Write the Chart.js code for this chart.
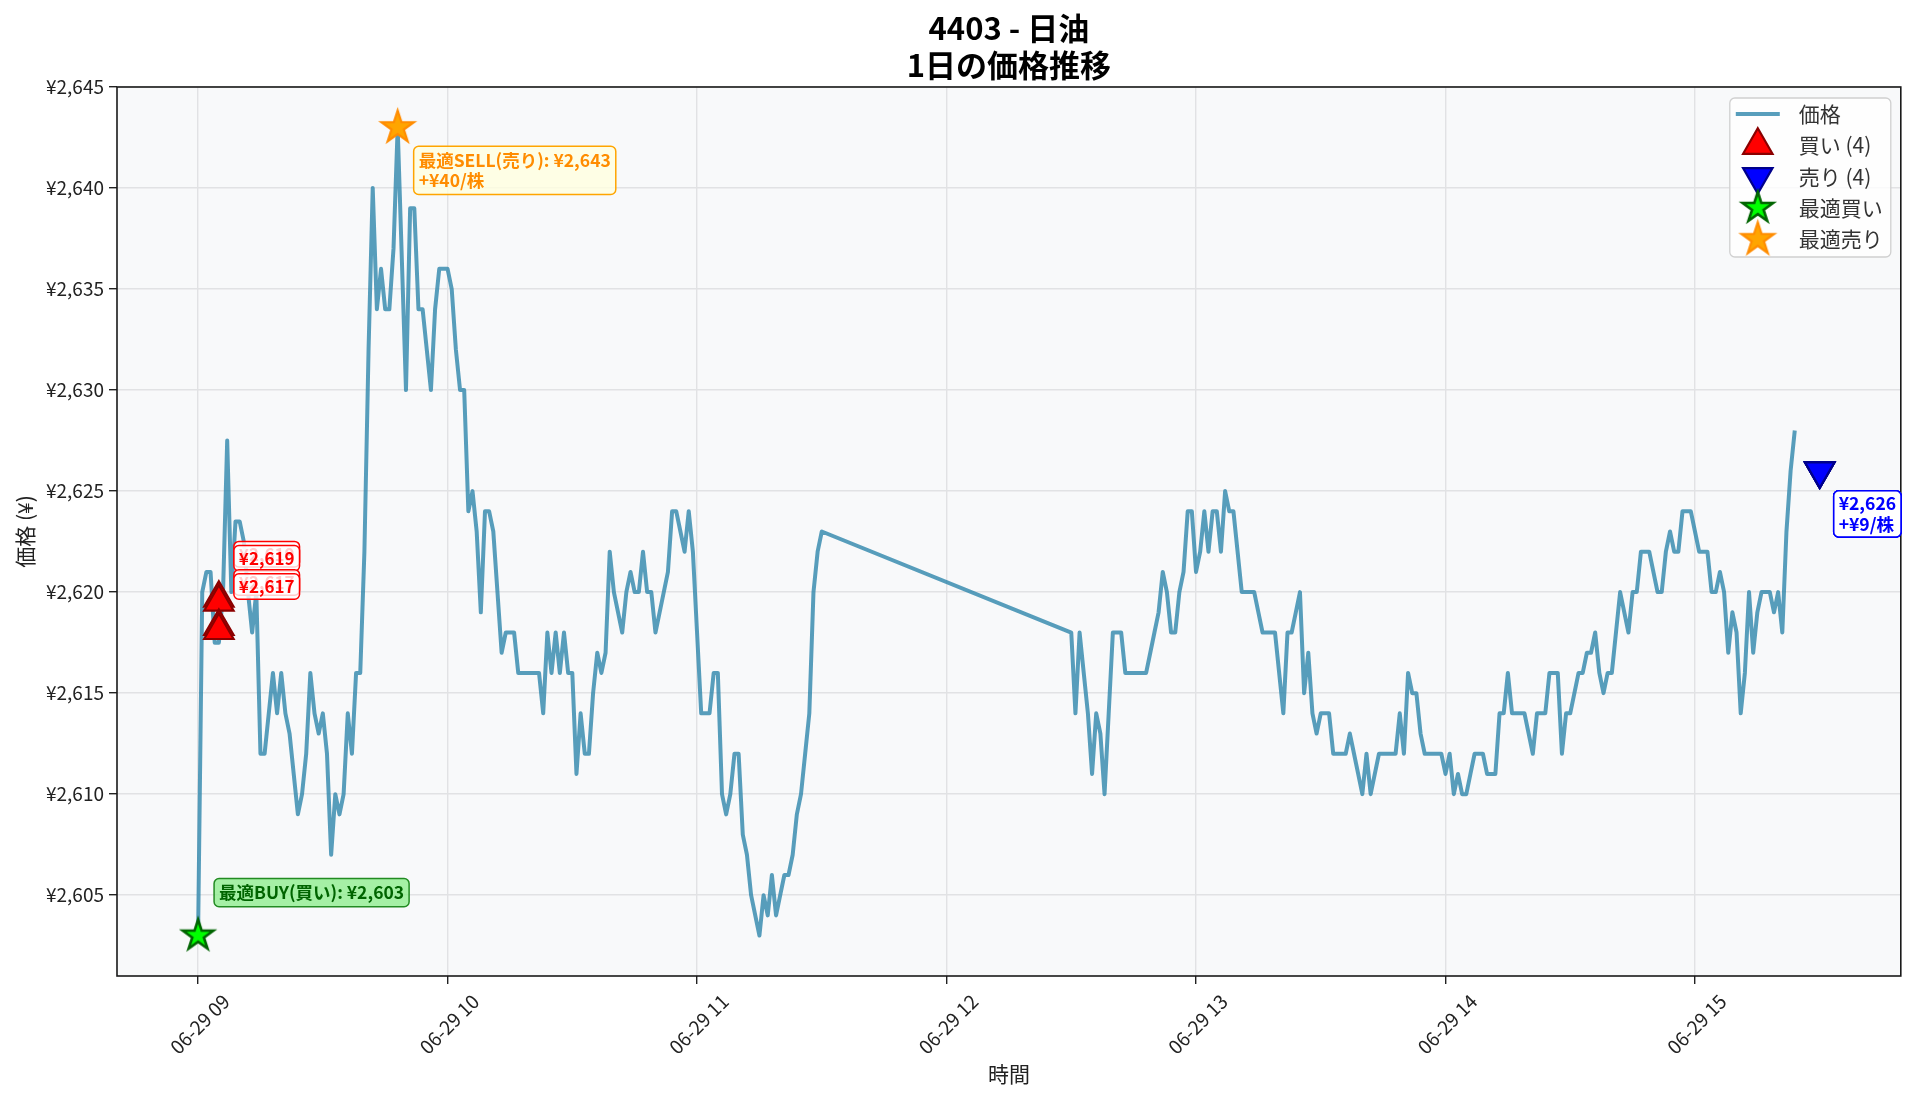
<!DOCTYPE html>
<html lang="ja">
<head>
<meta charset="utf-8">
<title>4403 - 日油 1日の価格推移</title>
<script src="https://cdn.jsdelivr.net/npm/chart.js@4.4.1/dist/chart.umd.min.js"></script>
<style>
  html, body { margin: 0; padding: 0; background: #fff; }
  #wrap { width: 1920px; height: 1101px; }
</style>
</head>
<body>
<div id="wrap"><canvas id="chart" width="1920" height="1101"></canvas></div>
<script>
const FONT = "'Noto Sans CJK JP', 'Noto Sans', sans-serif";

// 1分足の終値 (前場 09:00〜11:30 / 後場 12:30〜15:24)
const amStart = '09:00';
const amPrices = [
  2603, 2620, 2621, 2621, 2617.5, 2617.5, 2620, 2627.5, 2620, 2623.5,
  2623.5, 2622.5, 2620, 2618, 2620, 2612, 2612, 2614, 2616, 2614,
  2616, 2614, 2613, 2611, 2609, 2610, 2612, 2616, 2614, 2613,
  2614, 2612, 2607, 2610, 2609, 2610, 2614, 2612, 2616, 2616,
  2622, 2632, 2640, 2634, 2636, 2634, 2634, 2637, 2643, 2636.5,
  2630, 2639, 2639, 2634, 2634, 2632, 2630, 2634, 2636, 2636,
  2636, 2635, 2632, 2630, 2630, 2624, 2625, 2623, 2619, 2624,
  2624, 2623, 2620, 2617, 2618, 2618, 2618, 2616, 2616, 2616,
  2616, 2616, 2616, 2614, 2618, 2616, 2618, 2616, 2618, 2616,
  2616, 2611, 2614, 2612, 2612, 2615, 2617, 2616, 2617, 2622,
  2620, 2619, 2618, 2620, 2621, 2620, 2620, 2622, 2620, 2620,
  2618, 2619, 2620, 2621, 2624, 2624, 2623, 2622, 2624, 2622,
  2618, 2614, 2614, 2614, 2616, 2616, 2610, 2609, 2610, 2612,
  2612, 2608, 2607, 2605, 2604, 2603, 2605, 2604, 2606, 2604,
  2605, 2606, 2606, 2607, 2609, 2610, 2612, 2614, 2620, 2622,
  2623
];
const pmStart = '12:30';
const pmPrices = [
  2618, 2614, 2618, 2616, 2614, 2611, 2614, 2613, 2610, 2614,
  2618, 2618, 2618, 2616, 2616, 2616, 2616, 2616, 2616, 2617,
  2618, 2619, 2621, 2620, 2618, 2618, 2620, 2621, 2624, 2624,
  2621, 2622, 2624, 2622, 2624, 2624, 2622, 2625, 2624, 2624,
  2622, 2620, 2620, 2620, 2620, 2619, 2618, 2618, 2618, 2618,
  2616, 2614, 2618, 2618, 2619, 2620, 2615, 2617, 2614, 2613,
  2614, 2614, 2614, 2612, 2612, 2612, 2612, 2613, 2612, 2611,
  2610, 2612, 2610, 2611, 2612, 2612, 2612, 2612, 2612, 2614,
  2612, 2616, 2615, 2615, 2613, 2612, 2612, 2612, 2612, 2612,
  2611, 2612, 2610, 2611, 2610, 2610, 2611, 2612, 2612, 2612,
  2611, 2611, 2611, 2614, 2614, 2616, 2614, 2614, 2614, 2614,
  2613, 2612, 2614, 2614, 2614, 2616, 2616, 2616, 2612, 2614,
  2614, 2615, 2616, 2616, 2617, 2617, 2618, 2616, 2615, 2616,
  2616, 2618, 2620, 2619, 2618, 2620, 2620, 2622, 2622, 2622,
  2621, 2620, 2620, 2622, 2623, 2622, 2622, 2624, 2624, 2624,
  2623, 2622, 2622, 2622, 2620, 2620, 2621, 2620, 2617, 2619,
  2618, 2614, 2616, 2620, 2617, 2619, 2620, 2620, 2620, 2619,
  2620, 2618, 2623, 2626, 2628
];

const titleLines = ['4403 - 日油', '1日の価格推移'];
const hourTicks = ['09:00', '10:00', '11:00', '12:00', '13:00', '14:00', '15:00'];
const hourLabels = ['06-29 09', '06-29 10', '06-29 11', '06-29 12', '06-29 13', '06-29 14', '06-29 15'];
const yTicks = [2605, 2610, 2615, 2620, 2625, 2630, 2635, 2640, 2645];

// 売買シグナル
const buyTimes = ['09:05', '09:05', '09:05', '09:05'];
const buyMarks = [2619.7, 2619.5, 2618.3, 2618.1];
const buyPrices = [2619, 2619, 2617, 2617];
const sellTimes = ['15:30', '15:30', '15:30', '15:30'];
const sellPrices = [2626, 2626, 2626, 2626];
const sellGains = [9, 9, 9, 9];

const bestBuyTime = '09:00', bestBuyPrice = 2603;
const bestSellTime = '09:48', bestSellPrice = 2643, bestSellGain = 40;

const LINE_COLOR = 'rgba(46, 134, 171, 0.8)';

function toMin(t) {
  const [h, m] = t.split(':').map(Number);
  return (h - 9) * 60 + m;
}
function yen(v) {
  return '¥' + Math.round(v).toLocaleString('en-US');
}

function starImage(r, fill, edge, lw) {
  const s = Math.ceil(2 * r + lw * 2 + 4);
  const c = document.createElement('canvas');
  c.width = c.height = s;
  const g = c.getContext('2d');
  g.translate(s / 2, s / 2);
  g.beginPath();
  for (let i = 0; i < 10; i++) {
    const a = -Math.PI / 2 + i * Math.PI / 5;
    const rr = i % 2 ? r * 0.382 : r;
    g.lineTo(rr * Math.cos(a), rr * Math.sin(a));
  }
  g.closePath();
  g.fillStyle = fill;
  g.fill();
  g.lineJoin = 'miter';
  g.lineWidth = lw;
  g.strokeStyle = edge;
  g.stroke();
  return c;
}
const greenStar = starImage(16, '#00ff00', '#006400', 2.6);
const orangeStar = starImage(17, '#ffa500', '#ff8c00', 2.2);

const lineData = amPrices.map((p, i) => ({ x: toMin(amStart) + i, y: p }))
  .concat(pmPrices.map((p, i) => ({ x: toMin(pmStart) + i, y: p })));

const allX = lineData.map(d => d.x).concat(sellTimes.map(toMin));
const xLo = Math.min(...allX), xHi = Math.max(...allX);
const xPad = (xHi - xLo) * 0.05;

// plot background + title centred over the axes
const plotBg = {
  id: 'plotBg',
  beforeDraw(chart) {
    const { ctx, chartArea: a } = chart;
    ctx.save();
    ctx.fillStyle = '#f8f9fa';
    ctx.fillRect(a.left, a.top, a.right - a.left, a.bottom - a.top);
    ctx.fillStyle = '#000';
    ctx.font = `bold 31px ${FONT}`;
    ctx.textAlign = 'center';
    ctx.textBaseline = 'middle';
    const cx = (a.left + a.right) / 2;
    titleLines.forEach((t, i) => ctx.fillText(t, cx, 28 + 37 * i));
    ctx.restore();
  }
};

function drawTag(ctx, lines, left, cy, o) {
  ctx.save();
  ctx.font = `bold ${o.size}px ${FONT}`;
  const lh = o.size * 1.15;
  const w = Math.max(...lines.map(l => ctx.measureText(l).width)) + o.padX * 2;
  const h = lines.length * lh + o.padY * 2;
  const top = cy - h / 2;
  ctx.beginPath();
  ctx.roundRect(left, top, w, h, 5);
  ctx.fillStyle = o.bg;
  ctx.fill();
  ctx.lineWidth = 1.5;
  ctx.strokeStyle = o.edge;
  ctx.stroke();
  ctx.fillStyle = o.color;
  ctx.textAlign = 'left';
  ctx.textBaseline = 'middle';
  lines.forEach((l, i) => ctx.fillText(l, left + o.padX, top + o.padY + lh * (i + 0.5)));
  ctx.restore();
}

// annotations, frame
const overlay = {
  id: 'overlay',
  afterDatasetsDraw(chart) {
    const { ctx, chartArea: a, scales: { x, y } } = chart;
    ctx.save();
    ctx.strokeStyle = '#1a1a1a';
    ctx.lineWidth = 1.6;
    ctx.strokeRect(a.left, a.top, a.right - a.left, a.bottom - a.top);
    ctx.restore();

    buyTimes.forEach((t, i) => {
      drawTag(ctx, [yen(buyPrices[i])], x.getPixelForValue(toMin(t)) + 15, y.getPixelForValue(buyMarks[i]) - 44,
        { size: 17, padX: 5, padY: 3, bg: 'rgba(255,255,255,0.8)', edge: '#ff0000', color: '#ff0000' });
    });
    sellTimes.forEach((t, i) => {
      drawTag(ctx, [yen(sellPrices[i]), '+¥' + sellGains[i] + '/株'], x.getPixelForValue(toMin(t)) + 14,
        y.getPixelForValue(sellPrices[i]) + 43,
        { size: 17.5, padX: 5, padY: 3, bg: 'rgba(255,255,255,0.8)', edge: '#0000ff', color: '#0000ff' });
    });
    drawTag(ctx, ['最適BUY(買い): ' + yen(bestBuyPrice)], x.getPixelForValue(toMin(bestBuyTime)) + 16,
      y.getPixelForValue(bestBuyPrice) - 43,
      { size: 17.5, padX: 5, padY: 4, bg: 'rgba(144,238,144,0.8)', edge: '#228b22', color: '#006400' });
    drawTag(ctx, ['最適SELL(売り): ' + yen(bestSellPrice), '+¥' + bestSellGain + '/株'],
      x.getPixelForValue(toMin(bestSellTime)) + 16, y.getPixelForValue(bestSellPrice) + 43,
      { size: 17.5, padX: 5, padY: 4, bg: 'rgba(255,255,224,0.8)', edge: '#ffa500', color: '#ff8c00' });
  }
};

// legend box (upper right)
const legendBox = {
  id: 'legendBox',
  afterDraw(chart) {
    const { ctx, chartArea: a } = chart;
    const ds = chart.data.datasets;
    const items = [ds[4], ds[0], ds[1], ds[2], ds[3]];
    const boxW = 161, boxH = 159, rowH = 31.3;
    const left = a.right - 10 - boxW, top = a.top + 11;
    ctx.save();
    ctx.beginPath();
    ctx.roundRect(left, top, boxW, boxH, 5);
    ctx.fillStyle = 'rgba(255,255,255,0.8)';
    ctx.fill();
    ctx.strokeStyle = '#d0d0d0';
    ctx.lineWidth = 1.3;
    ctx.stroke();
    ctx.font = `21px ${FONT}`;
    ctx.textAlign = 'left';
    ctx.textBaseline = 'middle';
    items.forEach((d, i) => {
      const cy = top + 16 + rowH * i;
      const cx = left + 28;
      if (d.showLine) {
        ctx.strokeStyle = d.borderColor;
        ctx.lineWidth = d.borderWidth;
        ctx.beginPath();
        ctx.moveTo(cx - 22, cy);
        ctx.lineTo(cx + 22, cy);
        ctx.stroke();
      } else {
        ctx.fillStyle = d.backgroundColor;
        ctx.strokeStyle = d.borderColor;
        ctx.lineWidth = d.borderWidth;
        Chart.helpers.drawPoint(ctx, {
          pointStyle: d.pointStyle, radius: d.pointRadius, rotation: d.rotation || 0, borderWidth: d.borderWidth
        }, cx, cy);
      }
      ctx.fillStyle = '#333';
      ctx.fillText(d.label, left + 69, cy);
    });
    ctx.restore();
  }
};

new Chart(document.getElementById('chart'), {
  type: 'scatter',
  data: {
    datasets: [
      {
        label: '買い (' + buyTimes.length + ')',
        data: buyTimes.map((t, i) => ({ x: toMin(t), y: buyMarks[i] })),
        pointStyle: 'triangle', pointRadius: 17, rotation: 0,
        backgroundColor: '#ff0000', borderColor: '#8b0000', borderWidth: 2.2, order: 1
      },
      {
        label: '売り (' + sellTimes.length + ')',
        data: sellTimes.map((t, i) => ({ x: toMin(t), y: sellPrices[i] })),
        pointStyle: 'triangle', pointRadius: 17, rotation: 180,
        backgroundColor: '#0000ff', borderColor: '#00008b', borderWidth: 2.2, order: 1
      },
      {
        label: '最適買い',
        data: [{ x: toMin(bestBuyTime), y: bestBuyPrice }],
        pointStyle: greenStar, pointRadius: 16,
        backgroundColor: '#00ff00', borderColor: '#006400', borderWidth: 0, order: 0
      },
      {
        label: '最適売り',
        data: [{ x: toMin(bestSellTime), y: bestSellPrice }],
        pointStyle: orangeStar, pointRadius: 17,
        backgroundColor: '#ffa500', borderColor: '#ff8c00', borderWidth: 0, order: 0
      },
      {
        label: '価格',
        data: lineData,
        showLine: true,
        borderColor: LINE_COLOR,
        borderWidth: 4,
        borderJoinStyle: 'round',
        pointRadius: 0,
        tension: 0,
        order: 5
      }
    ]
  },
  options: {
    responsive: false,
    animation: false,
    events: [],
    layout: { padding: { left: 0, right: 14, top: 87, bottom: 0 } },
    plugins: {
      legend: { display: false },
      tooltip: { enabled: false },
      title: { display: false }
    },
    scales: {
      x: {
        type: 'linear',
        min: xLo - xPad,
        max: xHi + xPad,
        afterBuildTicks: s => { s.ticks = hourTicks.map(t => ({ value: toMin(t) })); },
        afterFit: s => { s.height = 125; s.paddingLeft = 0; s.paddingRight = 0; },
        ticks: {
          autoSkip: false,
          minRotation: 45,
          maxRotation: 45,
          labelOffset: 28,
          padding: 6,
          color: '#222',
          font: { family: FONT, size: 19 },
          callback: (v, i) => hourLabels[i]
        },
        grid: { color: '#e1e2e4', lineWidth: 1.4, tickLength: 8, tickColor: '#222', tickWidth: 1.4 },
        border: { display: false },
        title: { display: true, text: '時間', color: '#222', font: { family: FONT, size: 21 }, padding: { bottom: 14 } }
      },
      y: {
        min: 2601,
        max: 2645,
        afterBuildTicks: s => { s.ticks = yTicks.map(v => ({ value: v })); },
        afterFit: s => { s.width = 117; s.paddingTop = 0; s.paddingBottom = 0; },
        ticks: {
          padding: 5,
          color: '#222',
          font: { family: FONT, size: 19 },
          callback: v => yen(v)
        },
        grid: { color: '#e1e2e4', lineWidth: 1.4, tickLength: 8, tickColor: '#222', tickWidth: 1.4 },
        border: { display: false },
        title: { display: true, text: '価格 (¥)', color: '#222', font: { family: FONT, size: 21 }, padding: { top: 12 } }
      }
    }
  },
  plugins: [plotBg, overlay, legendBox]
});
</script>
</body>
</html>
